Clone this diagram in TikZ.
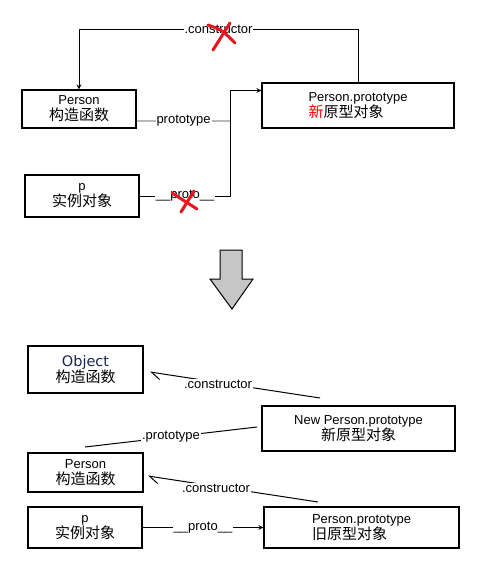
\documentclass[tikz,border=0pt]{standalone}
\usepackage{fontspec}
\setmainfont{Liberation Sans}
\newfontfamily\cjk{Noto Sans CJK SC}
\newfontfamily\dejavu{DejaVu Sans}
\usetikzlibrary{arrows.meta,calc}
\newcommand{\zh}[1]{{\cjk\fontsize{15}{16}\selectfont #1}}
\definecolor{objblue}{HTML}{1A2650}
\definecolor{crossred}{HTML}{E8141E}
\definecolor{arrowgray}{HTML}{C6C6C6}
\begin{document}
\begin{tikzpicture}[x=1pt,y=-1pt,line width=1pt,
    box/.style={draw,line width=1.2pt,align=center,inner sep=0pt,font=\fontsize{13}{16}\selectfont},
    lbl/.style={fill=white,inner sep=1pt,font=\fontsize{13}{15}\selectfont},
    crossout/.style={draw=crossred,line width=3pt,line cap=round},
    tip/.style={-{Stealth[length=5pt,width=5pt]}},
    barb/.style={-{Straight Barb[left,length=9pt,width=12pt]}}]
    \useasboundingbox (0,0) rectangle (486,581);

    \node[box,minimum width=114pt,minimum height=38pt] (person) at (79,109) {Person\\\zh{构造函数}};
    \node[box,minimum width=192pt,minimum height=45pt,align=left] (newproto) at (358,105.5) {Person.prototype\\\zh{\textcolor{red}{新}原型对象}};
    \node[box,minimum width=114pt,minimum height=42pt] (p) at (82,196) {p\\\zh{实例对象}};

    \draw[tip] (newproto.north) -- ++(0,-53) -| node[lbl,pos=0.25] {.constructor} (person.north);
    \draw[arrowgray!80!gray,line width=1.5pt] ($(person.east)+(0,12)$) -- node[lbl,text=black] {prototype} ++(94,0);
    \draw[tip] (p.east) -- node[lbl] {\_\_proto\_\_} ++(91,0) |- ($(newproto.west)+(0,-15)$);

    \draw[crossout] (208,25) .. controls (222,30) .. (235,43);
    \draw[crossout] (230,23) -- (213,50);
    \draw[crossout] (172,193) -- (197,209);
    \draw[crossout] (194,191) -- (181,212);

    \draw[fill=arrowgray] (220,250) -- (242,250) -- (242,279) -- (253,279) -- (232,309) -- (210,279) -- (220,279) -- cycle;

    \node[box,minimum width=115pt,minimum height=47pt] (object) at (85.5,369.5) {{\dejavu\fontsize{14.5}{16}\selectfont\textcolor{objblue}{Object}}\\\zh{构造函数}};
    \node[box,minimum width=193pt,minimum height=45pt] (newproto2) at (358.5,428.5) {New Person.prototype\\\zh{新原型对象}};
    \node[box,minimum width=115pt,minimum height=39pt] (person2) at (85.5,472.5) {Person\\\zh{构造函数}};
    \node[box,minimum width=114pt,minimum height=41pt] (p2) at (85,527.5) {p\\\zh{实例对象}};
    \node[box,minimum width=195pt,minimum height=41pt,align=left] (oldproto) at (361.5,527.5) {Person.prototype\\\zh{旧原型对象}};

    \coordinate (c1a) at (320,398);
    \coordinate (c1b) at (150,372);
    \coordinate (pra) at (257,427);
    \coordinate (prb) at (85,447);
    \coordinate (c2a) at (318,502);
    \coordinate (c2b) at (148,476);

    \draw[barb] (c1a) -- node[lbl,pos=0.6,yshift=-2pt] {.constructor} (c1b);
    \draw (pra) -- node[lbl] {.prototype} (prb);
    \draw[barb] (c2a) -- node[lbl,pos=0.6,yshift=-2pt] {.constructor} (c2b);
    \draw[tip] (p2) -- node[lbl] {\_\_proto\_\_} (oldproto);
\end{tikzpicture}
\end{document}
